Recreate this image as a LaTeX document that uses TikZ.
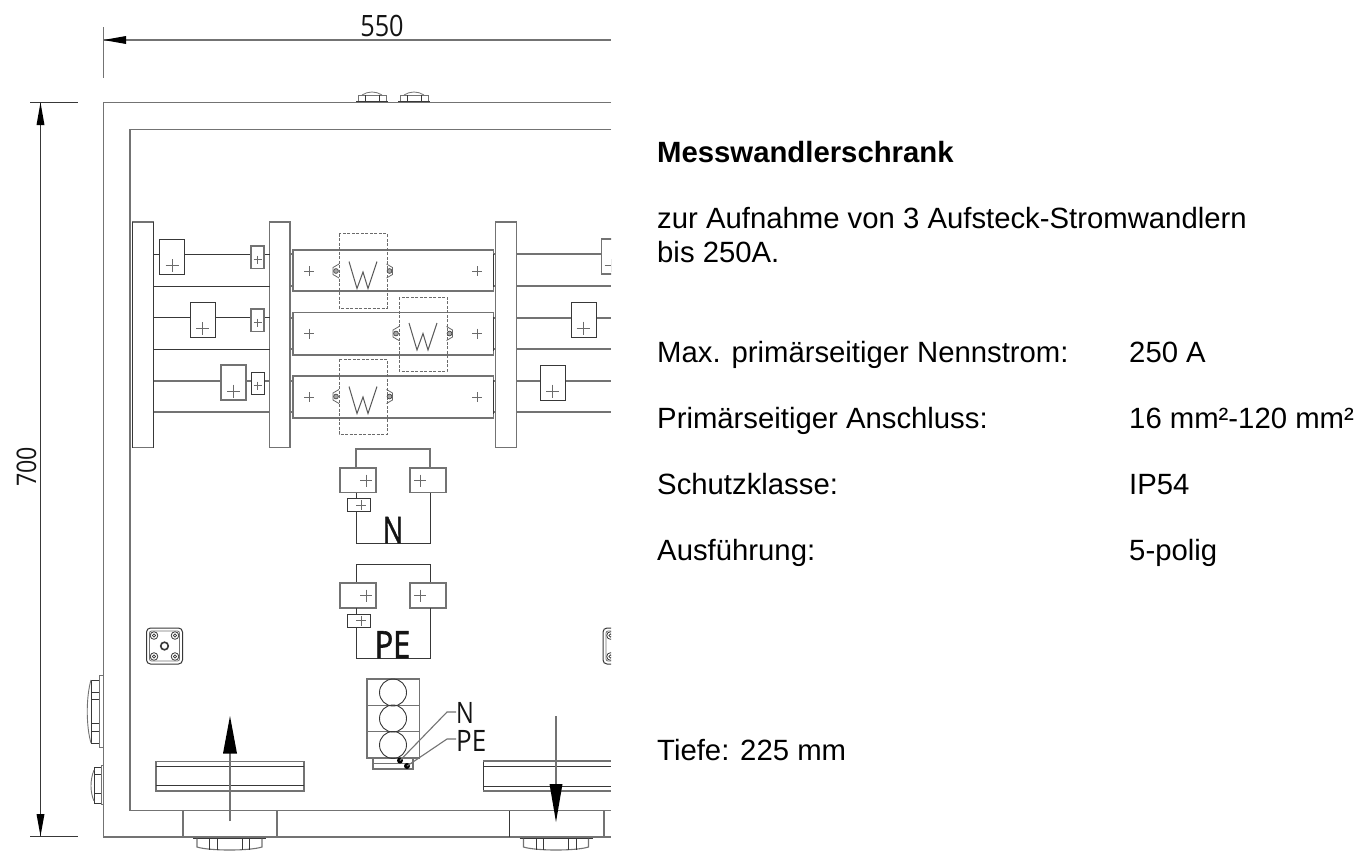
\documentclass[tikz,border=0pt]{standalone}
\usepackage{fontspec}
\setmainfont{Liberation Sans}
\newfontfamily\cadfont{Open Sans}
\newfontfamily\cadheavy[FakeBold=1.5]{Open Sans}
\tikzset{
  x=1pt,y=-1pt,
  ln/.style={draw=black!55,line width=1.1pt},
  dk/.style={draw=black!78,line width=1pt},
  thin gray/.style={draw=black!58,line width=.9pt},
  dsh/.style={draw=black!58,line width=1pt,dash pattern=on 3pt off 1.5pt},
  txt/.style={anchor=base west,inner sep=0pt,font=\fontsize{29.3}{32}\selectfont,text=black},
  cad/.style={inner sep=0pt,text=black!92},
  head/.style={fill=black,draw=none}
}
\newcommand{\pls}[3]{\draw[thin gray] (#1-#3,#2) -- (#1+#3,#2) (#1,#2-#3) -- (#1,#2+#3);}
\newcommand{\screw}[3]{% x y dir
  \draw[draw=black!70,line width=.7pt,fill=black!35] (#1,#2) circle (2.4);
  \draw[draw=black!60,line width=.8pt] (#1-#3*3,#2-7) -- (#1+#3*3,#2-3.5) -- (#1+#3*3,#2+3.5) -- (#1-#3*3,#2+7);
}
\newcommand{\dubya}[2]{\draw[draw=black!65,line width=1pt] (#1-14,#2-13.5) -- (#1-6,#2+13.5) -- (#1,#2-3) -- (#1+5,#2+13.5) -- (#1+14,#2-13.5);}
\newcommand{\sqgland}[2]{
  \draw[dk,rounded corners=4pt] (#1-18,#2-18) rectangle (#1+18,#2+18);
  \draw[ln,line width=.8pt,rounded corners=2pt] (#1-15,#2-15) rectangle (#1+15,#2+15);
  \draw[dk,line width=1.6pt] (#1,#2) circle (3.8);
  \foreach \dx in {-10.5,10.5} \foreach \dy in {-10.5,10.5} {
    \draw[draw=white,fill=white] (#1+\dx,#2+\dy) circle (3.8);
    \draw[dk,line width=.8pt] (#1+\dx,#2+\dy) circle (3.8);
    \draw[dk,line width=.8pt] (#1+\dx,#2+\dy) circle (1.6);
  }
}
\newcommand{\foot}[1]{% x centre of bottom gland
  \draw[dk,line width=1.5pt] (#1-36.5,838.5) -- (#1+36.5,838.5);
  \draw[ln] (#1-32.5,838.5) -- (#1-32.5,847) .. controls (#1-20,851) and (#1+20,851) .. (#1+32.5,847) -- (#1+32.5,838.5);
  \foreach \d in {-20,-12.5,12.5,20} \draw[dk,line width=.9pt] (#1+\d,839) -- (#1+\d,849.5);
}
\begin{document}
\begin{tikzpicture}
\useasboundingbox (0,0) rectangle (1357,852);
\fill[white] (0,0) rectangle (1357,852);
\begin{scope}
\clip (0,0) rectangle (611,852);
% dimension top
\draw[ln] (103.5,27) -- (103.5,78);
\draw[ln] (103.5,40) -- (611,40);
\fill[head] (103.5,40) -- (126,36) -- (126,44) -- cycle;
% dimension left
\draw[dk] (30,102) -- (78,102);
\draw[dk] (30,836.5) -- (78,836.5);
\draw[dk] (40.5,102) -- (40.5,836);
\fill[head] (40.5,102.5) -- (36.5,125) -- (44.5,125) -- cycle;
\fill[head] (40.5,836) -- (36.5,814) -- (44.5,814) -- cycle;
% cabinet
\draw[ln] (611,102.5) -- (103.5,102.5) -- (103.5,837) -- (611,837);
\draw[ln] (611,129.5) -- (130,129.5) -- (130,810.5) -- (611,810.5);
% rails
\draw[ln] (132.5,222) rectangle (153.5,447.5);
\draw[dk,line width=1.4pt] (132.5,222) -- (132.5,447.5);
\draw[dk] (153.5,222) -- (153.5,447.5);
\draw[ln] (269.5,222) rectangle (290,447.5);
\draw[ln] (495.5,222) rectangle (516.5,447.5);
% solid wires
\draw[dk] (153.5,286) -- (269.5,286) (153.5,349) -- (269.5,349);
\draw[ln] (153.5,412) -- (269.5,412);
\foreach \y in {286,349,412} {
  \draw[ln] (516.5,\y) -- (611,\y);
}
% wires with terminals
\draw[dk] (153.5,254) -- (159.5,254) (184,254) -- (251,254) (264,254) -- (269.5,254);
\draw[dk] (153.5,317.5) -- (190,317.5) (215,317.5) -- (251,317.5) (264,317.5) -- (269.5,317.5);
\draw[ln] (153.5,381) -- (221,381) (246,381) -- (251,381) (264,381) -- (269.5,381);
\draw[ln] (516.5,254) -- (601.5,254);
\draw[ln] (516.5,318) -- (571,318) (596,318) -- (611,318);
\draw[ln] (516.5,381) -- (540,381) (565,381) -- (611,381);
% terminals
\draw[dk] (159.5,239) rectangle (184,274); \pls{172}{265.5}{6.5}
\draw[dk] (190,302) rectangle (215,337); \pls{202.5}{328.5}{6.5}
\draw[ln] (221,365) rectangle (246,400); \pls{233.5}{391}{6.5}
\draw[ln] (251,246) rectangle (264,268.5); \pls{257.5}{259.5}{4}
\draw[ln] (251,309) rectangle (264,331.5); \pls{257.5}{322.5}{4}
\draw[dk] (251,372) rectangle (264,394.5); \pls{257.5}{385.5}{4}
\draw[ln] (601.5,239) rectangle (640,274); \pls{611}{265.5}{6.5}
\draw[dk] (571,302) rectangle (596,337); \pls{583}{328}{6.5}
\draw[dk] (540,365) rectangle (565,400); \pls{552.5}{391}{6.5}
% bus bars
\foreach \t/\b/\m in {250/291/271,312.5/355/333.5,376/418/397} {
  \draw[ln] (293,\t) rectangle (493.5,\b);
  \draw[dk] (493.5,\t+4) -- (493.5,\b-4);
  \pls{309}{\m}{5}
  \pls{477}{\m}{5}
}
\foreach \y in {254,286,318,349,381,412} {
  \draw[ln] (290,\y) -- (293,\y);
  \draw[ln] (493.5,\y) -- (495.5,\y);
}
% dashed clamps
\draw[dsh] (339,233.5) rectangle (387,308);
\draw[dsh] (399,297) rectangle (447,371);
\draw[dsh] (339,359) rectangle (387,434);
\dubya{363}{275}
\dubya{423}{336.5}
\dubya{363}{400}
\screw{336}{271}{-1}
\screw{389.5}{271}{1}
\screw{396}{333.5}{-1}
\screw{449.5}{333.5}{1}
\screw{336}{396.5}{-1}
\screw{389.5}{396.5}{1}
% N group
\draw[ln] (356,468) -- (356,449) -- (430,449) -- (430,468);
\draw[ln] (340,468) rectangle (376,492.5); \pls{366}{480.5}{6}
\draw[ln] (410,468) rectangle (446,492.5); \pls{420}{480.5}{6}
\draw[dk] (347,498.5) rectangle (370.5,511.5); \pls{361}{505}{5}
\draw[dk] (356,492.5) -- (356,498.5) (356,511.5) -- (356,543) -- (430,543) -- (430,492.5);
\node[cad,anchor=base] (lblN) at (393,543) {\cadheavy\fontsize{36.5}{36}\selectfont\scalebox{.74}[1]{N}};
% PE group
\draw[dk] (356,583) -- (356,564) -- (430,564) -- (430,583);
\draw[ln] (340,583) rectangle (376,608); \pls{366}{595.5}{6}
\draw[ln] (410,583) rectangle (446,608); \pls{420}{595.5}{6}
\draw[dk] (347,614) rectangle (370.5,627); \pls{361}{620.5}{5}
\draw[dk] (356,608) -- (356,614) (356,627) -- (356,658) -- (430,658) -- (430,608);
\node[cad,anchor=base] (lblPE) at (392.5,658) {\cadheavy\fontsize{37.5}{37}\selectfont\scalebox{.82}[1]{PE}};
% conduit block
\draw[ln] (367,679) rectangle (419.5,758);
\draw[ln] (367,705.5) -- (419.5,705.5) (367,731.5) -- (419.5,731.5);
\foreach \y in {692.5,718.5,745} \draw[dk,line width=.9pt] (393,\y) circle (13.5);
\draw[ln] (373,758) -- (373,769) -- (413,769) -- (413,758);
\draw[ln] (373,763.5) -- (413,763.5);
\coordinate (dN) at (400,760.5);
\coordinate (dPE) at (407,766);
\fill[black] (dN) circle (3);
\fill[black] (dPE) circle (3);
\draw[ln] (dN) -- (447,712) -- (456,712);
\draw[ln] (dPE) -- (447,739) -- (456,739);
\node[cad,anchor=base west] (lblN2) at (456,723) {\cadfont\fontsize{29.5}{29}\selectfont\scalebox{.8}[1]{N}};
\node[cad,anchor=base west] (lblPE2) at (456,751) {\cadfont\fontsize{29.5}{29}\selectfont\scalebox{.88}[1]{PE}};
% DIN rails
\draw[ln] (156,761.5) rectangle (304,791);
\draw[dk,line width=.9pt] (156,766.5) -- (304,766.5) (156,785.5) -- (304,785.5);
\draw[dk] (483,761) -- (483,791);
\draw[ln] (483,761) -- (611,761) (483,791) -- (611,791);
\draw[dk,line width=.9pt] (483,766) -- (611,766) (483,786) -- (611,786);
% arrows
\draw[ln] (230,821) -- (230,750);
\fill[head] (230,716) -- (223,753.5) -- (237,753.5) -- cycle;
\draw[ln] (556,716) -- (556,790);
\fill[head] (556,822) -- (549.5,784) -- (562.5,784) -- cycle;
% feet
\draw[ln] (183,810.5) -- (183,837) (277,810.5) -- (277,837);
\draw[dk] (509,810.5) -- (509,837);
\draw[ln] (604,810.5) -- (604,837);
\foot{229.5}
\foot{556}
% square glands
\sqgland{164.5}{646}
\sqgland{621}{646}
% side glands
\draw[ln,line width=1pt] (99,675) rectangle (103.5,747);
\draw[dk,line width=.9pt] (99,680) -- (91,680) -- (91,743) -- (99,743);
\draw[ln,line width=.9pt] (91,680) .. controls (86,697) and (86,726) .. (91,743);
\draw[dk,line width=.9pt] (91,692) -- (99,692) (91,699) -- (99,699) (91,723) -- (99,723) (91,731) -- (99,731);
\draw[ln,line width=1pt] (101,765) rectangle (103.5,804);
\draw[dk,line width=.9pt] (101,767) -- (94,767) -- (94,803) -- (101,803);
\draw[ln,line width=.9pt] (94,770) .. controls (90,780) and (90,792) .. (94,801);
\draw[dk,line width=.9pt] (94,774) -- (101,774) (94,793) -- (101,793);
% top glands
\foreach \xx in {356,398} {
  \draw[dk,line width=1.5pt] (\xx,101.5) -- (\xx+32,101.5);
  \draw[ln,line width=.9pt] (\xx+2,101) -- (\xx+2,95) -- (\xx+30,95) -- (\xx+30,101);
  \draw[ln,line width=.8pt] (\xx+6,95) .. controls (\xx+12,91) and (\xx+20,91) .. (\xx+26,95);
  \draw[dk,line width=.8pt] (\xx+9,95) -- (\xx+9,101) (\xx+23,95) -- (\xx+23,101);
}
% dimension labels
\node[cad,anchor=base] (d550) at (382,36) {\cadfont\fontsize{29.4}{29}\selectfont\scalebox{.86}[1]{550}};
\end{scope}
\node[cad,anchor=base,rotate=90] (d700) at (36,467) {\cadfont\fontsize{27}{27}\selectfont\scalebox{.86}[1]{700}};
% text
\node[txt,font=\fontsize{29.3}{32}\selectfont\bfseries] (t1) at (657,162.7) {Messwandlerschrank};
\node[txt] (t2) at (657,228.7) {zur Aufnahme von 3 Aufsteck-Stromwandlern};
\node[txt] (t3) at (657,262.7) {bis 250A.};
\node[txt] (t4) at (657,362.7) {Max. primärseitiger Nennstrom:};
\node[txt] (t5) at (1129,362.7) {250 A};
\node[txt] (t6) at (657,428.5) {Primärseitiger Anschluss:};
\node[txt] (t7) at (1129,428.5) {16 mm²-120 mm²};
\node[txt] (t8) at (657,494) {Schutzklasse:};
\node[txt] (t9) at (1129,494) {IP54};
\node[txt] (t10) at (657,560) {Ausführung:};
\node[txt] (t11) at (1129,560) {5-polig};
\node[txt] (t12) at (657,760.7) {Tiefe: 225 mm};
\end{tikzpicture}
\end{document}
